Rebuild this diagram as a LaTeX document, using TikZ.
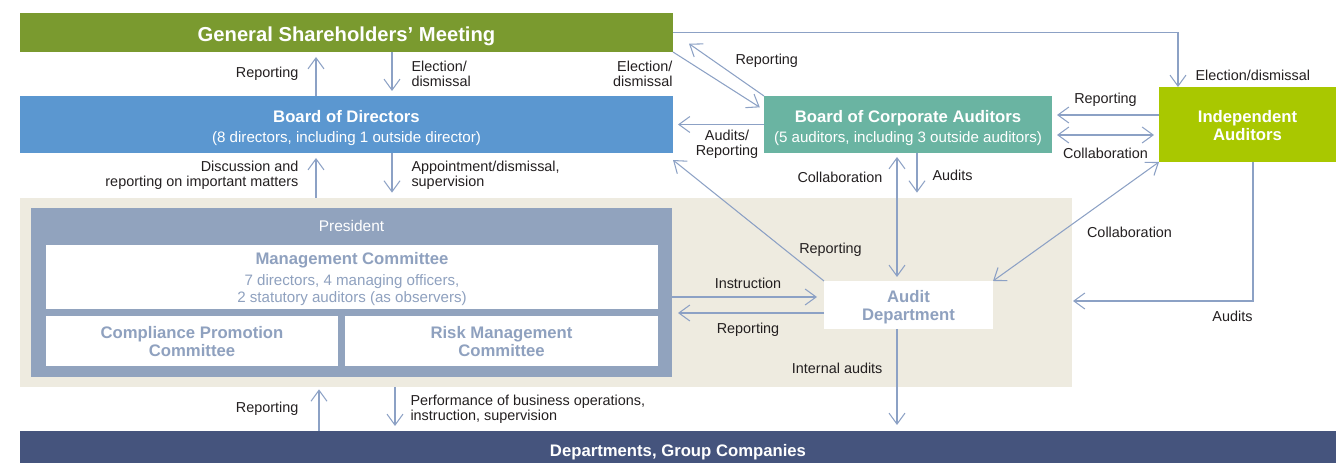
\documentclass[tikz,border=0pt]{standalone}
\usepackage{fontspec}
\setmainfont{Liberation Sans}
\usepackage{xcolor}
\usetikzlibrary{positioning,arrows.meta,calc}

\definecolor{gsmgreen}{HTML}{7A9A2F}
\definecolor{bodblue}{HTML}{5B97D0}
\definecolor{bcateal}{HTML}{6AB4A2}
\definecolor{ialime}{HTML}{A9C800}
\definecolor{execbeige}{HTML}{EEEBE0}
\definecolor{presblue}{HTML}{91A3BE}
\definecolor{boxtext}{HTML}{8FA1BF}
\definecolor{deptnavy}{HTML}{45547D}
\definecolor{arrowc}{HTML}{8CA1C5}
\definecolor{labelc}{HTML}{231F20}

\newcommand{\lblfont}{\fontsize{8.2}{8.4}\selectfont}
\newcommand{\ttlfont}{\bfseries\fontsize{9.5}{10.6}\selectfont}
\newcommand{\subfont}{\mdseries\fontsize{8.6}{9.4}\selectfont}

\tikzset{>={Straight Barb[length=2.2mm,width=3.2mm]}}
\tikzset{conn/.style={draw=arrowc, line width=0.6pt}}
\tikzset{every edge/.style={draw, conn, shorten >=1mm}}
\tikzset{lbl/.style={font=\lblfont, text=labelc, inner sep=0pt}}
\tikzset{orgbox/.style={inner sep=0pt, outer sep=0pt, align=center, font=\ttlfont, text depth=0pt}}

\begin{document}
\begin{tikzpicture}[x=0.2mm, y=-0.2mm]       % one unit = one pixel of the layout
    \path[use as bounding box] (0,0) rectangle (1336,463);

    \node[fill=execbeige, minimum width=210.4mm, minimum height=37.8mm, inner sep=0pt] at (546,292.5) (bg) {};

    \node[orgbox, fill=gsmgreen, text=white, minimum width=130.6mm, minimum height=7.8mm, text height=10.6pt, font=\bfseries\fontsize{11.5}{12}\selectfont] at (346.5,32.5) (gsm) {General Shareholders' Meeting};
    \node[orgbox, fill=bodblue, text=white, minimum width=130.6mm, minimum height=11.4mm, text height=20.3pt, font=\subfont] at (346.5,124.5) (bod) {{\ttlfont Board of Directors}\\[1.9pt](8 directors, including 1 outside director)};
    \node[orgbox, fill=bcateal, text=white, minimum width=57.6mm, minimum height=11.4mm, text height=20.3pt, font=\subfont] at (908,124.5) (bca) {{\ttlfont Board of Corporate Auditors}\\[1.9pt](5 auditors, including 3 outside auditors)};
    \node[orgbox, fill=ialime, text=white, minimum width=35.4mm, minimum height=15mm, text height=18.7pt] at (1247.5,124.5) (ia) {Independent\\Auditors};

    \node[orgbox, fill=presblue, minimum width=128.2mm, minimum height=33.8mm] at (351.5,292.5) (pres) {};
    \node[inner sep=0pt, text=white, font=\fontsize{8.8}{10}\selectfont] at (351.5,226) (prestitle) {President};
    \node[orgbox, fill=white, text=boxtext, minimum width=122.4mm, minimum height=12.8mm, text height=28.8pt, font=\subfont] at (352,277) (mc) {{\ttlfont Management Committee}\\[2.5pt]7 directors, 4 managing officers,\\2 statutory auditors (as observers)};
    \node[orgbox, fill=white, text=boxtext, minimum width=58.4mm, minimum height=10mm, text height=18.1pt] at (192,341) (cpc) {Compliance Promotion\\Committee};
    \node[orgbox, fill=white, text=boxtext, minimum width=62.6mm, minimum height=10mm, text height=18.1pt] at (501.5,341) (rmc) {Risk Management\\Committee};

    \node[orgbox, fill=white, text=boxtext, minimum width=33.8mm, minimum height=9.6mm, text height=18.1pt] at (908.5,305) (ad) {Audit\\Department};
    \node[orgbox, fill=deptnavy, text=white, minimum width=263.2mm, minimum height=6.4mm, text height=10.8pt] at (678,447) (dept) {Departments, Group Companies};

    % columns and rows of the connectors
    \coordinate (cA) at (316,0);
    \coordinate (cB) at (392,0);
    \coordinate (cC) at (319,0);
    \coordinate (cD) at (395,0);
    \coordinate (cE) at (897,0);
    \coordinate (cF) at (917,0);
    \coordinate (cG) at (1178,0);
    \coordinate (cH) at (1253,0);
    \coordinate (rA) at (0,115);
    \coordinate (rB) at (0,135);
    \coordinate (rI) at (0,297);
    \coordinate (rR) at (0,313);
    \coordinate (audin) at (1073,301);

    \draw (bod.north -| cA) edge[->] node[lbl, left=3.4mm] {Reporting} (gsm.south -| cA);
    \draw (gsm.south -| cB) edge[->] node[lbl, right=3.8mm, align=left] {Election/\\dismissal} (bod.north -| cB);
    \draw (bg.north -| cA) edge[->] node[lbl, left=3.4mm, align=right] {Discussion and\\reporting on important matters} (bod.south -| cA);
    \draw (bod.south -| cB) edge[->] node[lbl, right=3.8mm, align=left] {Appointment/dismissal,\\supervision} (bg.north -| cB);
    \draw (dept.north -| cC) edge[->, shorten >=0.4mm] node[lbl, left=4mm] {Reporting} (bg.south -| cC);
    \draw (bg.south -| cD) edge[->] node[lbl, right=3mm, align=left] {Performance of business operations,\\instruction, supervision} (dept.north -| cD);

    \draw (bca.north west) edge[->, shorten >=3.9mm] node[lbl, anchor=west, xshift=3.3mm, yshift=0.6mm] {Reporting} (gsm.east);
    \draw (gsm.south east) edge[->] node[lbl, pos=0, anchor=north east, yshift=-1.8mm, align=right] {Election/\\dismissal} ($(bca.north west)+(0,14)$);
    \draw[conn, ->] (gsm.east) -| node[lbl, pos=0.89, right=3.4mm] {Election/dismissal} (ia.north -| cG);
    \draw (bca.west) edge[->] node[lbl, below=1mm, xshift=1.7mm, align=center] {Audits/\\Reporting} (bod.east);
    \draw (ad.north west) edge[->, shorten >=0pt] node[lbl, pos=0.26, anchor=west, xshift=2.8mm] {Reporting} ($(bod.south east)+(0,7)$);

    \draw (ia.west |- rA) edge[->] node[lbl, above=1.5mm] {Reporting} (bca.east |- rA);
    \draw (bca.east |- rB) edge[<->, shorten <=1mm] node[lbl, below=2.5mm] {Collaboration} (ia.west |- rB);
    \draw (bca.south -| cE) edge[<->, shorten <=0.8mm, shorten >=0.8mm] node[lbl, pos=0.19, left=2.8mm] {Collaboration} (ad.north -| cE);
    \draw (bca.south -| cF) edge[->] node[lbl, right=3mm] {Audits} (bg.north -| cF);
    \draw (ia.south west) edge[<->, shorten >=0pt] node[lbl, pos=0.59, anchor=west, xshift=5.1mm] {Collaboration} (ad.north east);
    \draw[conn, ->] (ia.south -| cH) |- node[lbl, pos=0.5, anchor=north east, yshift=-2mm] {Audits} (audin);

    \draw (pres.east |- rI) edge[->, shorten >=1.4mm] node[lbl, above=1.6mm] {Instruction} (ad.west |- rI);
    \draw (ad.west |- rR) edge[->, shorten >=1.2mm] node[lbl, below=1.9mm] {Reporting} (pres.east |- rR);
    \draw (ad.south -| cE) edge[->, shorten >=1.2mm] node[lbl, pos=0.39, left=2.8mm] {Internal audits} (dept.north -| cE);
\end{tikzpicture}
\end{document}
